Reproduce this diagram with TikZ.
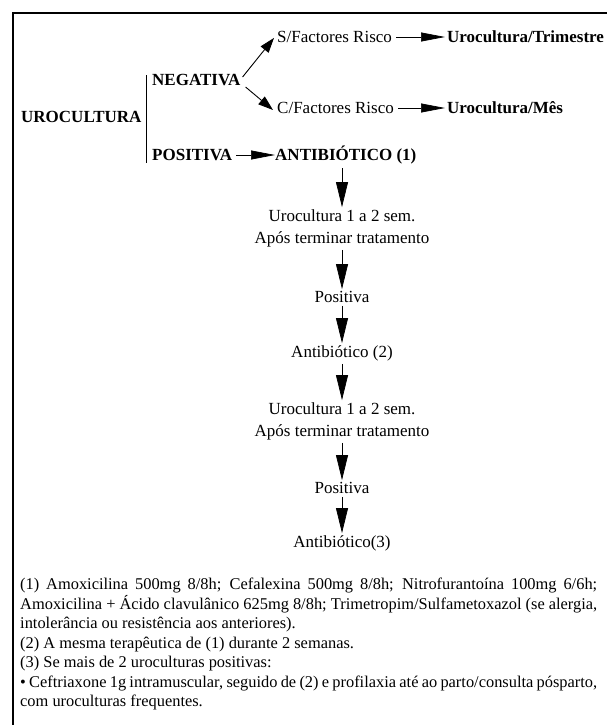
\documentclass[tikz,border=0pt]{standalone}
\usepackage{fontspec}
\setmainfont{Liberation Serif}
\usepackage{tikz}
\usetikzlibrary{arrows.meta}
\usepackage{xcolor}
\definecolor{flowblack}{HTML}{000000}

\begin{document}
\begin{tikzpicture}[x=1pt,y=-1pt,
      font=\fontsize{17}{20}\selectfont,
      lbl/.style={inner sep=0pt,anchor=west,text=flowblack},
      hd/.style={lbl,font=\fontsize{17}{20}\selectfont\bfseries},
      stage/.style={inner sep=0pt,align=center,text=flowblack,
                    font=\fontsize{17}{22}\selectfont},
      note/.style={inner sep=0pt,anchor=north west,text width=577pt,
                   align=justify,font=\fontsize{16.4}{19.5}\selectfont},
      harr/.style={-{Triangle[length=24pt,width=9pt]},line width=0.7pt,flowblack},
      darr/.style={-{Triangle[length=15pt,width=10pt]},line width=0.9pt,flowblack},
      varr/.style={-{Triangle[length=25pt,width=12pt]},line width=0.7pt,flowblack}]
    \useasboundingbox (0,0) rectangle (607,725);
    \clip (0,0) rectangle (607,725);
    % frame
    \draw[line width=2pt,flowblack] (640,13) -- (13,13) -- (13,760);
    % first branching
    \node[hd]  (uro)  at (21,117)  {UROCULTURA};
    \draw[line width=1pt,flowblack] (146,75) -- (146,163);
    \node[hd]  (neg)  at (152,80)  {NEGATIVA};
    \node[hd]  (pos)  at (152,155) {POSITIVA};
    \node[hd]  (ab1)  at (275,155) {ANTIBIÓTICO (1)};
    \node[lbl] (sfr)  at (277,37)  {S/Factores Risco};
    \node[hd]  (trim) at (447,37)  {Urocultura/Trimestre};
    \node[lbl] (cfr)  at (277,108) {C/Factores Risco};
    \node[hd]  (mes)  at (447,108) {Urocultura/Mês};
    \draw[darr] ([xshift=2pt,yshift=3pt]neg.east) -- ([xshift=-3pt,yshift=5pt]sfr.south west);
    \draw[darr] ([xshift=5pt,yshift=-7pt]neg.east) -- ([xshift=-4pt,yshift=-2pt]cfr.west);
    \draw[harr,shorten <=4pt,shorten >=2pt] (sfr.east) -- (trim.west);
    \draw[harr,shorten <=4pt,shorten >=2pt] (cfr.east) -- (mes.west);
    \draw[harr,shorten <=4pt] (pos.east) -- (ab1.west);
    % treatment column
    \node[stage] (uc1)  at (342,228) {Urocultura 1 a 2 sem.\\Após terminar tratamento};
    \node[stage] (pos1) at (342,297) {Positiva};
    \node[stage] (ab2)  at (342,353) {Antibiótico (2)};
    \node[stage] (uc2)  at (342,421) {Urocultura 1 a 2 sem.\\Após terminar tratamento};
    \node[stage] (pos2) at (342,488) {Positiva};
    \node[stage] (ab3)  at (342,543) {Antibiótico(3)};
    \draw[varr,shorten <=4pt,shorten >=2pt] (uc1.north |- ab1.south) -- (uc1.north);
    \draw[varr,shorten <=3pt,shorten >=2pt] (uc1.south) -- (pos1.north);
    \draw[varr,shorten <=3pt,shorten >=2pt] (pos1.south) -- (ab2.north);
    \draw[varr,shorten <=3pt,shorten >=2pt] (ab2.south) -- (uc2.north);
    \draw[varr,shorten <=3pt,shorten >=2pt] (uc2.south) -- (pos2.north);
    \draw[varr,shorten <=3pt,shorten >=2pt] (pos2.south) -- (ab3.north);
    % footnotes
    \node[note] (fn) at (20,578) {(1) Amoxicilina 500mg 8/8h; Cefalexina 500mg 8/8h; Nitrofurantoína 100mg 6/6h;\linebreak
      Amoxicilina + Ácido clavulânico 625mg 8/8h; Trimetropim/Sulfametoxazol (se alergia,\linebreak
      intolerância ou resistência aos anteriores).\\
      (2) A mesma terapêutica de (1) durante 2 semanas.\\
      (3) Se mais de 2 uroculturas positivas:\\
      • Ceftriaxone 1g intramuscular, seguido de (2) e profilaxia até ao parto/consulta pósparto,\linebreak
      com uroculturas frequentes.};
  \end{tikzpicture}
\end{document}
